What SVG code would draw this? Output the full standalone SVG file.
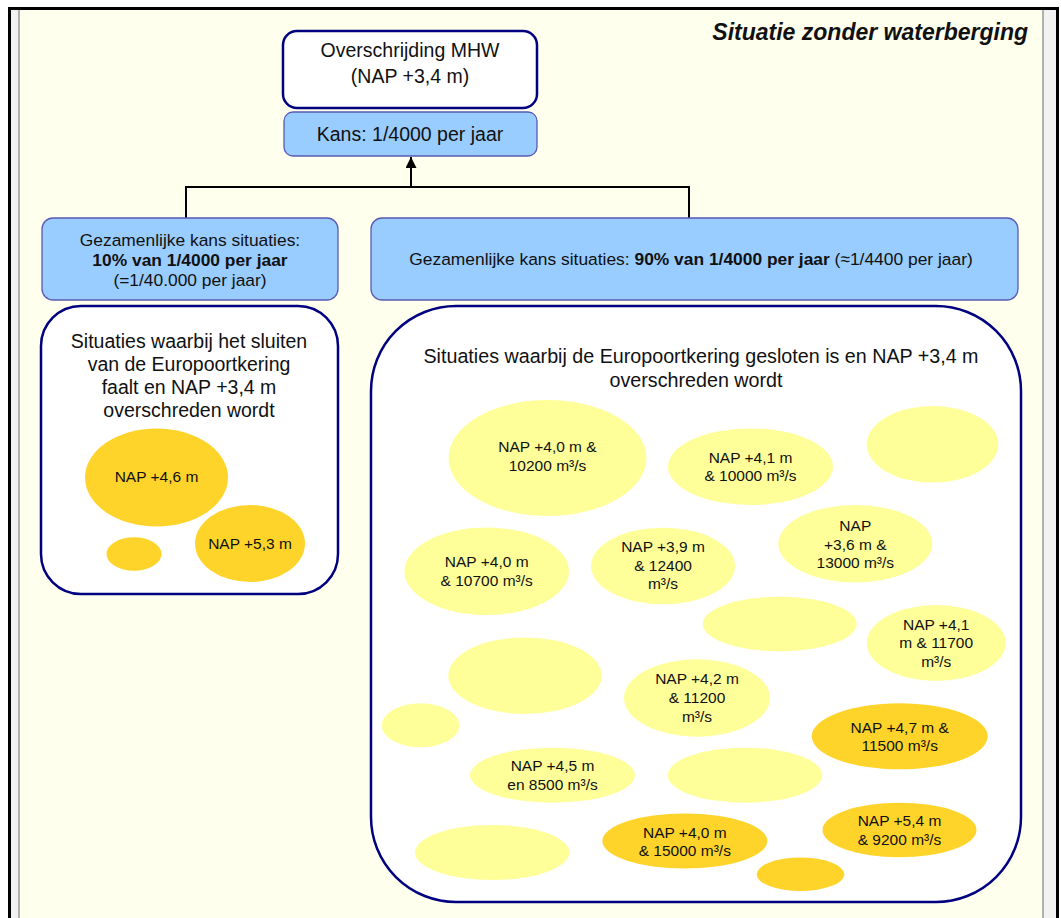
<svg xmlns="http://www.w3.org/2000/svg" width="1061" height="918" viewBox="0 0 1061 918">
<style>
text{font-family:"Liberation Sans",Arial,sans-serif;fill:#111;text-anchor:middle}
.t19{font-size:19.5px}
.t17{font-size:17.4px}
.t15{font-size:15.5px}
.b{font-weight:bold}
.navy{fill:#fff;stroke:#000080;stroke-width:2.5}
.blue{fill:#99CCFF;stroke:#5a5ab4;stroke-width:1.3}
.ly{fill:#FFFF99}
.or{fill:#FFD42A}
.conn{fill:none;stroke:#000;stroke-width:2}
</style>
<defs>
<marker id="ah" viewBox="0 0 10 10" refX="10" refY="5" markerWidth="5.5" markerHeight="5.5" markerUnits="strokeWidth" orient="auto">
<path d="M0,0 L10,5 L0,10 Z" fill="#000"/>
</marker>
</defs>
<rect x="0" y="0" width="1061" height="918" fill="#fff"/>
<rect x="9" y="8" width="1048" height="910" fill="#F2F2F2"/>
<rect x="19" y="9" width="1024" height="909" fill="#FFFFEE"/>
<line x1="19" y1="9" x2="19" y2="918" stroke="#808080" stroke-width="1.2"/>
<line x1="1043" y1="9" x2="1043" y2="918" stroke="#808080" stroke-width="1.2"/>
<path d="M9.5,918 V8.5 H1057.5 V918" fill="none" stroke="#000" stroke-width="3"/>
<text x="1028" y="40" style="font-size:23px;font-weight:bold;font-style:italic;text-anchor:end">Situatie zonder waterberging</text>

<g id="connectors">
<path class="conn" d="M186,218 V187 H689 V218"/>
<line class="conn" x1="411" y1="187" x2="411" y2="157" marker-end="url(#ah)"/>
</g>

<g id="node-mhw">
<rect class="navy" x="283" y="31" width="254" height="77" rx="14"/>
<text class="t19" x="410" y="57">Overschrijding MHW</text>
<text class="t19" x="410" y="83">(NAP +3,4 m)</text>
</g>
<g id="node-kans">
<rect class="blue" x="284" y="112" width="253" height="44" rx="9"/>
<text class="t19" x="410" y="140.5">Kans: 1/4000 per jaar</text>
</g>
<g id="node-kans10">
<rect class="blue" x="42" y="218" width="296" height="82" rx="11"/>
<text class="t17" x="190" y="246">Gezamenlijke kans situaties:</text>
<text class="t17 b" x="190" y="266">10% van 1/4000 per jaar</text>
<text class="t17" x="190" y="286">(=1/40.000 per jaar)</text>
</g>
<g id="node-kans90">
<rect class="blue" x="371" y="218" width="647" height="82" rx="11"/>
<text class="t17" x="691" y="265">Gezamenlijke kans situaties: <tspan class="b">90% van 1/4000 per jaar</tspan> (≈1/4400 per jaar)</text>
</g>

<g id="node-falen">
<rect class="navy" x="41" y="306" width="297" height="288" rx="40"/>
<text class="t19" x="189" y="347.5">Situaties waarbij het sluiten</text>
<text class="t19" x="189" y="370.5">van de Europoortkering</text>
<text class="t19" x="189" y="393.5">faalt en NAP +3,4 m</text>
<text class="t19" x="189" y="416.5">overschreden wordt</text>
<ellipse class="or" cx="156.5" cy="477.5" rx="71.5" ry="49"/>
<text class="t15" x="156.5" y="482">NAP +4,6 m</text>
<ellipse class="or" cx="250" cy="543.5" rx="55" ry="38.5"/>
<text class="t15" x="250" y="548.5">NAP +5,3 m</text>
<ellipse class="or" cx="134" cy="554" rx="27.5" ry="16.7"/>
</g>

<g id="node-gesloten">
<rect class="navy" x="371" y="306" width="650" height="596" rx="85"/>
<text x="701" y="363" style="font-size:19.7px">Situaties waarbij de Europoortkering gesloten is en NAP +3,4 m</text>
<text x="696" y="387" style="font-size:19.7px">overschreden wordt</text>

<ellipse class="ly" cx="547.5" cy="458" rx="99" ry="58"/>
<text class="t15" x="547.5" y="452">NAP +4,0 m &amp;</text>
<text class="t15" x="547.5" y="470.5">10200 m³/s</text>

<ellipse class="ly" cx="750.5" cy="466.7" rx="82.5" ry="38.3"/>
<text class="t15" x="750.5" y="462.7">NAP +4,1 m</text>
<text class="t15" x="750.5" y="481.2">&amp; 10000 m³/s</text>

<ellipse class="ly" cx="932.5" cy="444.3" rx="65.8" ry="38.3"/>

<ellipse class="ly" cx="486.7" cy="571.2" rx="82.3" ry="43.8"/>
<text class="t15" x="486.7" y="567">NAP +4,0 m</text>
<text class="t15" x="486.7" y="585.7">&amp; 10700 m³/s</text>

<ellipse class="ly" cx="663" cy="566" rx="72" ry="38.3"/>
<text class="t15" x="663" y="551.5">NAP +3,9 m</text>
<text class="t15" x="663" y="570.5">&amp; 12400</text>
<text class="t15" x="663" y="589">m³/s</text>

<ellipse class="ly" cx="855.3" cy="543.7" rx="77" ry="38.7"/>
<text class="t15" x="855.3" y="530.5">NAP</text>
<text class="t15" x="855.3" y="549.5">+3,6 m &amp;</text>
<text class="t15" x="855.3" y="568">13000 m³/s</text>

<ellipse class="ly" cx="779.7" cy="624" rx="77" ry="27.3"/>

<ellipse class="ly" cx="936.2" cy="643" rx="69.5" ry="38"/>
<text class="t15" x="936.2" y="629.5">NAP +4,1</text>
<text class="t15" x="936.2" y="648">m &amp; 11700</text>
<text class="t15" x="936.2" y="666.5">m³/s</text>

<ellipse class="ly" cx="525" cy="675.7" rx="76.7" ry="38.3"/>

<ellipse class="ly" cx="697" cy="698" rx="73" ry="38.7"/>
<text class="t15" x="697" y="684">NAP +4,2 m</text>
<text class="t15" x="697" y="703">&amp; 11200</text>
<text class="t15" x="697" y="721.5">m³/s</text>

<ellipse class="ly" cx="420.5" cy="725.3" rx="38.8" ry="22"/>

<ellipse class="or" cx="899.7" cy="736.3" rx="88" ry="33"/>
<text class="t15" x="899.7" y="732.5">NAP +4,7 m &amp;</text>
<text class="t15" x="899.7" y="751">11500 m³/s</text>

<ellipse class="ly" cx="552.5" cy="775.2" rx="82.5" ry="27.5"/>
<text class="t15" x="552.5" y="771">NAP +4,5 m</text>
<text class="t15" x="552.5" y="789.5">en 8500 m³/s</text>

<ellipse class="ly" cx="745" cy="775.2" rx="77.3" ry="27.5"/>

<ellipse class="ly" cx="492.2" cy="852.5" rx="77.2" ry="27.5"/>

<ellipse class="or" cx="684.8" cy="841" rx="82.5" ry="27.5"/>
<text class="t15" x="684.8" y="837.5">NAP +4,0 m</text>
<text class="t15" x="684.8" y="856">&amp; 15000 m³/s</text>

<ellipse class="or" cx="899.5" cy="830" rx="77" ry="27.3"/>
<text class="t15" x="899.5" y="826">NAP +5,4 m</text>
<text class="t15" x="899.5" y="844.5">&amp; 9200 m³/s</text>

<ellipse class="or" cx="800.5" cy="874.3" rx="43.8" ry="16.7"/>
</g>
</svg>
